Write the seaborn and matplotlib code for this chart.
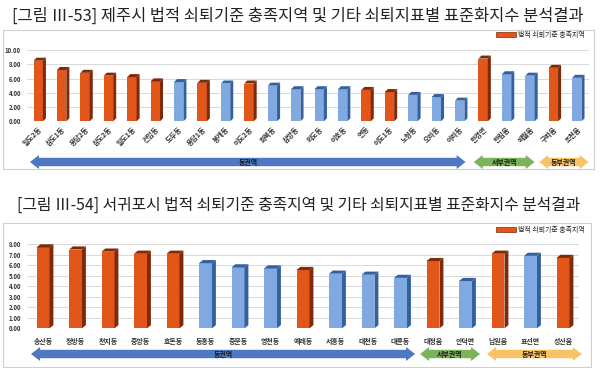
import matplotlib
matplotlib.use("Agg")
import matplotlib.pyplot as plt
import seaborn as sns
from matplotlib.patches import Patch, Polygon, Rectangle
from matplotlib.transforms import blended_transform_factory

# 제주시 (top chart)
jeju_names = ["일도2동", "삼도1동", "용담2동", "삼도2동", "일도1동", "건입동", "도두동", "용담1동",
              "봉개동", "이도2동", "화북동", "삼양동", "외도동", "이호동", "연동", "이도1동",
              "노형동", "오라동", "아라동", "한경면", "한림읍", "애월읍", "구좌읍", "조천읍"]
jeju_values = [8.5, 7.2, 6.8, 6.4, 6.2, 5.6, 5.5, 5.4, 5.3, 5.3, 5.0, 4.5,
               4.5, 4.5, 4.4, 4.1, 3.7, 3.4, 2.9, 8.8, 6.6, 6.4, 7.5, 6.1]
jeju_meets = [1, 1, 1, 1, 1, 1, 0, 1, 0, 1, 0, 0, 0, 0, 1, 1, 0, 0, 0, 1, 0, 0, 1, 0]
jeju_regions = ["동권역", "서부권역", "동부권역"]

# 서귀포시 (bottom chart)
sgp_names = ["송산동", "정방동", "천지동", "중앙동", "효돈동", "동홍동", "중문동", "영천동", "예래동",
             "서홍동", "대천동", "대륜동", "대정읍", "안덕면", "남원읍", "표선면", "성산읍"]
sgp_values = [7.7, 7.5, 7.3, 7.1, 7.1, 6.2, 5.8, 5.7, 5.55, 5.2, 5.1, 4.8, 6.4, 4.5, 7.1, 6.9, 6.7]
sgp_meets = [1, 1, 1, 1, 1, 0, 0, 0, 1, 0, 0, 0, 1, 0, 1, 0, 1]
sgp_regions = ["동권역", "서부권역", "동부권역"]

titles = ["[그림 Ⅲ-53] 제주시 법적 쇠퇴기준 충족지역 및 기타 쇠퇴지표별 표준화지수 분석결과",
          "[그림 Ⅲ-54] 서귀포시 법적 쇠퇴기준 충족지역 및 기타 쇠퇴지표별 표준화지수 분석결과"]
legend_label = "법적 쇠퇴기준 충족지역"

ORANGE, ORANGE_DK = "#E2561A", "#7E2A08"
BLUE, BLUE_DK = "#7FA9E0", "#33609F"
region_colors = ["#4E78C4", "#7DB35A", "#F8C365"]

sns.set_style("white")
plt.rcParams["font.family"] = ["Noto Sans CJK KR", "DejaVu Sans"]

fig = plt.figure(figsize=(6, 3.7), dpi=100)


def px(y):
    return 1 - y / 370


def draw_chart(ax, names, values, meets, ymax, ystep, dx, dy, rotate):
    colors = [ORANGE if m else BLUE for m in meets]
    sns.barplot(x=names, y=values, hue=names, palette=colors, saturation=1,
                width=0.4, legend=False, ax=ax, linewidth=0)
    # fake 3d side / top faces
    for p in list(ax.patches):
        x0, w, h = p.get_x(), p.get_width(), p.get_height()
        fc = p.get_facecolor()
        dk = ORANGE_DK if fc[0] > 0.8 else BLUE_DK
        side = Polygon([(x0 + w, 0), (x0 + w + dx, dy), (x0 + w + dx, h + dy), (x0 + w, h)],
                       closed=True, fc=dk, ec="none", zorder=p.get_zorder())
        top = Polygon([(x0, h), (x0 + dx, h + dy), (x0 + w + dx, h + dy), (x0 + w, h)],
                      closed=True, fc=dk, ec="none", zorder=p.get_zorder())
        ax.add_patch(side)
        ax.add_patch(top)
    ax.set_xlim(-0.5, len(names) - 0.5)
    ax.set_ylim(0, ymax)
    ticks = [i * ystep for i in range(int(round(ymax / ystep)) + 1)]
    ax.set_yticks(ticks)
    ax.set_yticklabels([f"{t:.2f}" for t in ticks], fontsize=4.3, color="#333333",
                       fontweight="bold")
    ax.yaxis.grid(True, color="#d9d9d9", lw=0.7)
    ax.set_axisbelow(True)
    for s in ax.spines.values():
        s.set_visible(False)
    ax.tick_params(length=0, pad=4)
    ax.set_xlabel("")
    ax.set_ylabel("")
    ax.set_xticks(range(len(names)))
    if rotate:
        ax.set_xticklabels(names, rotation=45, ha="right", rotation_mode="anchor",
                           fontsize=5, fontweight="bold", color="#333333")
        ax.tick_params(axis="x", pad=3)
    else:
        ax.set_xticklabels(names, fontsize=5, fontweight="bold", color="#333333")
        ax.tick_params(axis="x", pad=7)


def double_arrow(ax, x0, x1, yc, color, label, head):
    tr = blended_transform_factory(ax.transData, fig.transFigure)
    sh, hh = 4.2 / 370, 7 / 370
    pts = [(x0, yc), (x0 + head, yc + hh), (x0 + head, yc + sh), (x1 - head, yc + sh),
           (x1 - head, yc + hh), (x1, yc), (x1 - head, yc - hh), (x1 - head, yc - sh),
           (x0 + head, yc - sh), (x0 + head, yc - hh)]
    ax.add_patch(Polygon(pts, closed=True, fc=color, ec="none", transform=tr, clip_on=False))
    ax.text((x0 + x1) / 2, yc, label, transform=tr, ha="center", va="center",
            fontsize=5, fontweight="bold", color="#1a1a1a")


# frames
fig.add_artist(Rectangle((0.005, px(169)), 0.985, 139 / 370, transform=fig.transFigure,
                         fill=False, ec="#cfcfcf", lw=0.8))
fig.add_artist(Rectangle((0.005, px(367)), 0.98, 144 / 370, transform=fig.transFigure,
                         fill=False, ec="#cfcfcf", lw=0.8))

fig.text(0.497, px(16), titles[0], ha="center", va="center", fontsize=11.8, color="#222222")
fig.text(0.497, px(205), titles[1], ha="center", va="center", fontsize=11.4, color="#222222")

# top chart
ax1 = fig.add_axes([26.5 / 600, px(121.3), 562 / 600, 71.3 / 370])
draw_chart(ax1, jeju_names, jeju_values, jeju_meets, 10, 2, 0.13, 0.42, True)
arrow_x = [(-0.35, 18.25), (18.6, 21.2), (21.4, 23.5)]
for (x0, x1), lab, col in zip(arrow_x, jeju_regions, region_colors):
    double_arrow(ax1, x0, x1, px(162), col, lab, 0.38)

# bottom chart
ax2 = fig.add_axes([26.75 / 600, px(328.3), 552.5 / 600, 84 / 370])
draw_chart(ax2, sgp_names, sgp_values, sgp_meets, 8, 1, 0.12, 0.3, False)
arrow_x2 = [(-0.37, 11.45), (11.6, 13.45), (13.66, 16.58)]
for (x0, x1), lab, col in zip(arrow_x2, sgp_regions, region_colors):
    double_arrow(ax2, x0, x1, px(354), col, lab, 0.28)

# legends
for yl in (px(35), px(230)):
    fig.legend(handles=[Patch(fc=ORANGE, ec=ORANGE_DK, lw=0.5, label=legend_label)],
               loc="center right", bbox_to_anchor=(0.975, yl), frameon=False,
               fontsize=5, handlelength=2.9, handleheight=0.9, handletextpad=0.3,
               borderpad=0, borderaxespad=0)

fig.savefig("out.png", dpi=100)
